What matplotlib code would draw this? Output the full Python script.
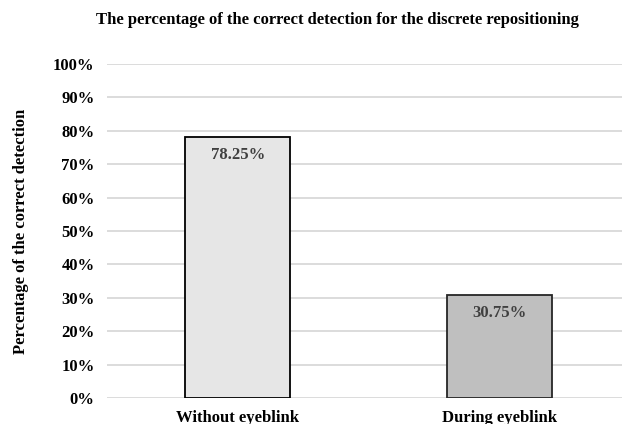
import matplotlib
matplotlib.use("Agg")
import matplotlib.pyplot as plt
from matplotlib.ticker import PercentFormatter

# Detection rates for the two conditions
categories = ["Without eyeblink", "During eyeblink"]
rates = [78.25, 30.75]
fill_colors = ["#e6e6e6", "#bfbfbf"]
edge_colors = ["#000000", "#262626"]

plt.rcParams["font.family"] = ["Liberation Serif", "DejaVu Serif"]
plt.rcParams["font.weight"] = "bold"

W, H = 622, 424
fig = plt.figure(figsize=(W / 100, H / 100), dpi=100)
ax = fig.add_axes([107 / W, 26 / H, 523 / W, 334 / H])

x = range(len(categories))
bars = ax.bar(x, rates, width=0.4, color=fill_colors, edgecolor=edge_colors,
              linewidth=1.3, zorder=3)

for bar, val in zip(bars, rates):
    ax.annotate(f"{val:.2f}%", (bar.get_x() + bar.get_width() / 2, val),
                xytext=(0, -13), textcoords="offset points",
                ha="center", va="center", fontsize=12, fontweight="bold",
                color="#404040", zorder=4)

ax.set_xlim(-0.5, 1.5)
ax.set_ylim(0, 100)
ax.set_yticks(range(0, 101, 10))
ax.yaxis.set_major_formatter(PercentFormatter(decimals=0))
ax.set_xticks(list(x))
ax.set_xticklabels(categories, fontsize=12, fontweight="bold")
ax.tick_params(axis="both", length=0, labelsize=12)
ax.tick_params(axis="y", pad=9)
ax.tick_params(axis="x", pad=9)

ax.grid(axis="y", color="#d9d9d9", linewidth=1.3, zorder=0)
for spine in ax.spines.values():
    spine.set_visible(False)

ax.set_ylabel("Percentage of the correct detection", fontsize=12,
              fontweight="bold", labelpad=17)
fig.text(0.543, 0.952,
         "The percentage of the correct detection for the discrete repositioning",
         ha="center", va="center", fontsize=12, fontweight="bold")

fig.savefig("out.png", dpi=100)
